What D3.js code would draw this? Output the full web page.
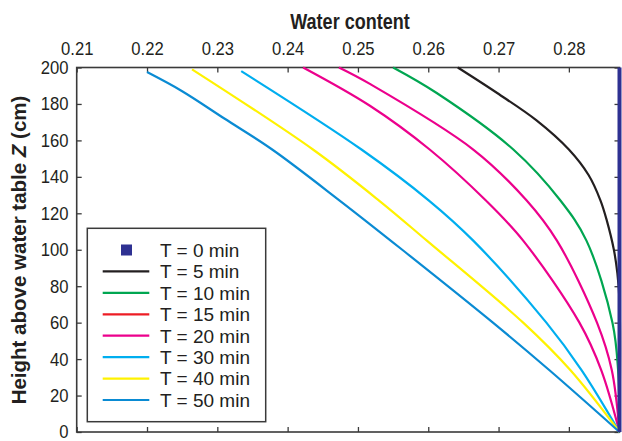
<!DOCTYPE html>
<html>
<head>
<meta charset="utf-8">
<script src="https://cdn.jsdelivr.net/npm/d3@7"></script>
<style>
  body { margin: 0; background: #fff; }
  svg { display: block; font-family: "Liberation Sans Narrow", "Arial Narrow", "Liberation Sans", sans-serif; }
  .tick text { font-size: 18.5px; fill: #231f20; }
</style>
</head>
<body>
<svg id="chart" width="622" height="441"></svg>
<script>
// Water content profiles: [water content, height Z (cm)]
const t0 = [[0.2872, 0], [0.2872, 200]];
const t5 = [[0.2642, 200], [0.2698, 186], [0.2754, 171], [0.2800, 155], [0.2828, 141], [0.2845, 127], [0.2854, 116], [0.2864, 100], [0.2869, 87], [0.2872, 72], [0.2872, 0]];
const t10 = [[0.2550, 200], [0.2612, 186], [0.2721, 155], [0.2788, 127], [0.2825, 105], [0.2862, 60], [0.2870, 34], [0.2872, 0]];
const t15 = [[0.2473, 200], [0.2517, 191], [0.2664, 155], [0.2740, 127], [0.2783, 105], [0.2840, 60], [0.2861, 34], [0.2872, 0]];
const t20 = [[0.2422, 200], [0.2517, 179], [0.2602, 155], [0.2682, 127], [0.2735, 105], [0.2815, 60], [0.2846, 34], [0.2872, 0]];
const t30 = [[0.2334, 198], [0.2505, 155], [0.2601, 127], [0.2664, 105], [0.2768, 60], [0.2818, 34], [0.2872, 0]];
const t40 = [[0.2264, 199], [0.2436, 155], [0.2530, 127], [0.2598, 105], [0.2735, 60], [0.2802, 34], [0.2872, 0]];
const t50 = [[0.2200, 197.5], [0.2250, 187], [0.2310, 172], [0.2378, 155], [0.2474, 127], [0.2563, 100], [0.2692, 60], [0.2772, 34], [0.2872, 0]];

const seriesLabels = ['T = 0 min', 'T = 5 min', 'T = 10 min', 'T = 15 min', 'T = 20 min', 'T = 30 min', 'T = 40 min', 'T = 50 min'];
const seriesData = [t0, t5, t10, t15, t20, t30, t40, t50];
const lineColors = ['#2e3192', '#231f20', '#00a651', '#ec008c', '#ec008c', '#00aeef', '#fff200', '#0a8bd3'];
const legendColors = ['#2e3192', '#231f20', '#00a651', '#ed1c24', '#ec008c', '#00aeef', '#fff200', '#0a8bd3'];

const xTicks = [0.21, 0.22, 0.23, 0.24, 0.25, 0.26, 0.27, 0.28];
const yTicks = [0, 20, 40, 60, 80, 100, 120, 140, 160, 180, 200];

const svg = d3.select('#chart');
const plotLeft = 76.7, plotRight = 619.5, plotTop = 67.5, plotBottom = 432;

const x = d3.scaleLinear().domain([0.21, 0.2872]).range([plotLeft, plotRight]);
const y = d3.scaleLinear().domain([0, 200]).range([plotBottom, plotTop]);

// Axes (ticks point inward on all four sides)
const axisColor = '#3a3a3a';
function styleAxis(g) {
    g.select('.domain').remove();
    g.selectAll('.tick line').attr('stroke', axisColor).attr('stroke-width', 1.3);
    // narrow the labels a little, like the condensed face of the original
    g.selectAll('.tick text').attr('transform', 'scale(0.9,1)');
}

svg.append('g')
    .attr('transform', `translate(0,${plotTop})`)
    .call(d3.axisTop(x).tickValues(xTicks).tickSizeInner(-5).tickSizeOuter(0).tickPadding(13).tickFormat(d3.format('.2f')))
    .call(styleAxis);

svg.append('g')
    .attr('transform', `translate(0,${plotBottom})`)
    .call(d3.axisBottom(x).tickValues(xTicks).tickSizeInner(-5).tickSizeOuter(0).tickFormat(''))
    .call(styleAxis);

svg.append('g')
    .attr('transform', `translate(${plotLeft},0)`)
    .call(d3.axisLeft(y).tickValues(yTicks).tickSizeInner(-5).tickSizeOuter(0).tickPadding(9))
    .call(styleAxis);

svg.append('g')
    .attr('transform', `translate(${plotRight},0)`)
    .call(d3.axisRight(y).tickValues(yTicks).tickSizeInner(-5).tickSizeOuter(0).tickFormat(''))
    .call(styleAxis);

// Plot frame
svg.append('rect')
    .attr('x', plotLeft).attr('y', plotTop)
    .attr('width', plotRight - plotLeft).attr('height', plotBottom - plotTop)
    .attr('fill', 'none').attr('stroke', axisColor).attr('stroke-width', 1.6);

// Curves
const line = d3.line()
    .x(d => x(d[0]))
    .y(d => y(d[1]))
    .curve(d3.curveCatmullRom.alpha(0.5));

svg.append('g').selectAll('path')
    .data(seriesData.slice(1))
    .enter().append('path')
    .attr('d', line)
    .attr('fill', 'none')
    .attr('stroke', (d, i) => lineColors[i + 1])
    .attr('stroke-width', 2.2);

// T = 0: saturated profile along the right edge (dense square markers)
svg.append('path')
    .attr('d', line.curve(d3.curveLinear)(t0))
    .attr('stroke', lineColors[0])
    .attr('stroke-width', 4)
    .attr('fill', 'none');

// Axis titles
svg.append('text')
    .attr('transform', 'translate(350,28.5) scale(0.82,1)')
    .attr('text-anchor', 'middle')
    .attr('font-size', 22).attr('font-weight', 'bold').attr('fill', '#231f20')
    .text('Water content');

const yTitle = svg.append('text')
    .attr('transform', 'translate(26,250) rotate(-90)')
    .attr('text-anchor', 'middle')
    .attr('font-size', 20.5).attr('font-weight', 'bold').attr('fill', '#231f20');
yTitle.append('tspan').text('Height above water table ');
yTitle.append('tspan').attr('font-style', 'italic').text('Z');
yTitle.append('tspan').text(' (cm)');

// Legend
const legend = svg.append('g');
legend.append('rect')
    .attr('x', 87.3).attr('y', 228.3)
    .attr('width', 178.4).attr('height', 193.4)
    .attr('fill', '#fff').attr('stroke', axisColor).attr('stroke-width', 1.5);

const items = legend.selectAll('g.item')
    .data(seriesLabels)
    .enter().append('g')
    .attr('class', 'item')
    .attr('transform', (d, i) => `translate(0,${250 + i * 21.43})`);

items.each(function (d, i) {
    const g = d3.select(this);
    if (i === 0) {
        g.append('rect')
            .attr('x', 121).attr('y', -5.5)
            .attr('width', 11).attr('height', 11)
            .attr('fill', legendColors[0]);
    } else {
        g.append('line')
            .attr('x1', 102.7).attr('x2', 149.3)
            .attr('stroke', legendColors[i]).attr('stroke-width', 2.2);
    }
});

items.append('text')
    .attr('x', 160).attr('dy', '0.36em')
    .attr('font-size', 19).attr('fill', '#231f20')
    .text(d => d);
</script>
</body>
</html>
